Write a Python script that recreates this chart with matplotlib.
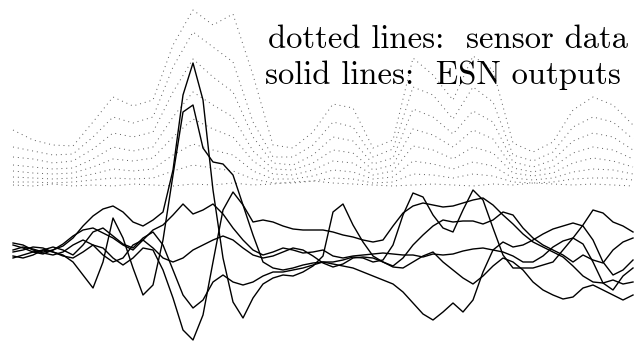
import numpy as np
import matplotlib
matplotlib.use("Agg")
import matplotlib.pyplot as plt

# time steps (samples)
t_esn = np.arange(63)
t_sensor = np.arange(0, 63, 2)

# sensor data (dotted)
sensor_1 = [5.7, 4.7, 4.2, 4.1, 6.5, 9.0, 8.1, 8.7, 14.2, 17.7, 16.2, 17.3, 11.2, 4.2, 3.9, 5.5,
            8.3, 7.9, 3.9, 4.7, 12.9, 11.2, 8.7, 13.1, 11.7, 4.4, 3.5, 4.5, 7.7, 9.0, 8.2, 6.2]
sensor_2 = [4.0, 3.6, 3.2, 3.3, 5.0, 7.0, 6.4, 7.0, 12.0, 15.5, 14.0, 12.5, 6.5, 3.0, 3.0, 4.2,
            6.5, 6.0, 3.0, 3.8, 10.0, 9.2, 6.8, 10.0, 8.5, 3.2, 2.6, 3.5, 6.0, 7.0, 6.5, 4.8]
sensor_3 = [3.0, 2.8, 2.4, 2.6, 3.8, 5.4, 5.0, 5.5, 9.5, 12.8, 11.0, 9.5, 5.0, 2.4, 2.2, 3.2,
            5.0, 4.6, 2.3, 2.9, 7.8, 7.0, 5.3, 7.6, 6.5, 2.5, 2.0, 2.7, 4.6, 5.4, 5.0, 3.7]
sensor_4 = [2.2, 2.0, 1.8, 1.9, 2.8, 4.0, 3.6, 4.0, 7.0, 9.5, 8.2, 7.0, 3.6, 1.8, 1.7, 2.4,
            3.7, 3.4, 1.7, 2.2, 5.8, 5.2, 4.0, 5.7, 4.8, 1.9, 1.5, 2.0, 3.4, 4.0, 3.7, 2.8]
sensor_5 = [1.6, 1.4, 1.3, 1.4, 2.0, 2.8, 2.6, 2.9, 5.0, 6.8, 5.8, 5.0, 2.6, 1.3, 1.2, 1.7,
            2.6, 2.4, 1.2, 1.6, 4.1, 3.7, 2.8, 4.0, 3.4, 1.4, 1.1, 1.4, 2.4, 2.9, 2.6, 2.0]
sensor_6 = [1.0, 0.9, 0.8, 0.9, 1.3, 1.8, 1.6, 1.8, 3.2, 4.3, 3.7, 3.2, 1.6, 0.8, 0.8, 1.1,
            1.7, 1.5, 0.8, 1.0, 2.6, 2.3, 1.8, 2.5, 2.1, 0.9, 0.7, 0.9, 1.5, 1.8, 1.7, 1.3]
sensor_7 = [0.5, 0.5, 0.4, 0.5, 0.7, 0.9, 0.8, 0.9, 1.6, 2.2, 1.9, 1.6, 0.8, 0.4, 0.4, 0.6,
            0.9, 0.8, 0.4, 0.5, 1.3, 1.2, 0.9, 1.3, 1.1, 0.5, 0.4, 0.5, 0.8, 0.9, 0.9, 0.7]
sensor_8 = [0.2, 0.1, 0.3, 0.1, 0.2, 0.1, 0.3, 0.2, 0.1, 0.3, 0.2, 0.4, 0.2, 0.3, 0.5, 0.6,
            0.4, 0.3, 0.2, 0.1, 0.2, 0.3, 0.2, 0.1, 0.3, 0.2, 0.4, 0.3, 0.2, 0.3, 0.2, 0.1]

# ESN outputs (solid)
esn_a = [0.5, 0.8, 0.6, 0.3, 0.5, 0.9, 1.7, 2.9, 3.9, 4.6, 4.9, 4.3, 3.3, 2.9, 3.5, 4.3,
         8.5, 16.0, 19.2, 15.5, 6.5, -0.3, -4.7, -6.3, -4.3, -2.9, -2.3, -2.0, -2.1, -1.7,
         -1.1, -0.1, 4.3, 5.1, 3.0, 1.3, -0.1, -0.7, -1.2, -1.3, -0.7, -0.1, 0.3, -0.7, -1.5,
         -2.3, -2.9, -2.1, -1.1, -0.3, -0.7, -1.5, -2.7, -3.5, -4.0, -4.4, -4.2, -3.3, -3.0,
         -3.5, -4.0, -4.5, -4.0]
esn_b = [-0.3, 0.0, 0.3, 0.5, 0.3, 0.0, -0.7, -2.0, -3.3, -0.7, 3.7, 1.7, -1.3, -4.0, -3.0,
         1.5, 8.0, 14.3, 15.0, 10.7, 9.3, 9.1, 8.0, 5.0, 3.3, 3.5, 3.3, 2.9, 2.6, 2.5, 2.5,
         2.5, 2.3, 2.0, 1.8, 1.5, 1.3, 1.5, 2.9, 4.2, 4.9, 5.2, 5.0, 4.8, 4.9, 5.2, 5.5, 5.7,
         5.0, 4.0, 3.1, 2.1, 1.3, 0.8, 0.3, -0.2, -1.1, -2.1, -2.7, -2.8, -2.5, -2.9, -2.7]
esn_c = [1.0, 0.7, 0.3, 0.1, 0.5, 1.1, 1.9, 2.5, 2.7, 2.2, 1.7, 1.0, 0.5, 1.5, 2.5, 3.0,
         4.0, 5.1, 4.1, 4.5, 5.1, 4.1, 2.7, 1.5, 0.5, 0.0, 0.3, 0.7, 0.5, 0.2, 0.3, 0.5, -0.1,
         -0.3, -0.1, 0.0, 0.1, 0.2, 0.1, 0.0, 0.0, -0.2, 0.1, 0.0, 0.1, 0.4, 0.6, 0.7, 0.5,
         0.3, -0.1, -0.7, -0.7, -0.1, 0.8, 1.4, 1.7, 1.1, -0.7, -2.8, -3.5, -2.1, -1.3]
esn_d = [0.3, 0.5, 0.8, 0.7, 0.3, -0.1, -0.3, 0.3, 1.0, 0.7, -0.3, -1.0, -0.3, 0.7, 0.5,
         -1.5, -4.3, -7.5, -8.5, -6.0, -0.7, 4.5, 6.3, 5.0, 2.0, -0.7, -1.3, -1.5, -1.3, -1.0,
         -0.8, -0.7, -0.9, -1.1, -1.3, -1.7, -2.1, -2.5, -2.9, -3.7, -4.8, -5.9, -6.5, -5.7,
         -4.8, -5.7, -4.5, -1.7, 0.5, 1.3, 0.8, 1.0, 1.5, 2.1, 2.6, 2.9, 3.2, 2.9, 1.5, -0.7,
         -2.0, -1.5, -0.5]
esn_e = [-0.1, -0.3, 0.0, 0.5, 0.8, 0.5, 0.0, 1.0, 2.3, 2.7, 1.9, 1.1, 0.7, 1.7, 2.3, 1.0,
         -1.5, -4.0, -5.3, -4.5, -2.7, -2.0, -2.7, -3.0, -2.7, -2.1, -1.7, -1.7, -1.5, -1.3,
         -1.0, -0.7, -0.7, -0.5, -0.2, -0.3, -0.7, -0.5, 1.0, 4.0, 6.2, 5.8, 4.0, 2.7, 2.3,
         4.5, 6.5, 5.5, 2.7, 0.0, -1.3, -1.3, -1.3, -1.0, -0.7, 0.5, 1.7, 3.0, 4.5, 4.2, 3.3,
         2.9, 2.3]
esn_f = [1.2, 1.0, 0.5, 0.2, 0.0, 0.3, 1.0, 1.5, 1.0, 0.0, -0.7, -0.3, 1.0, 1.5, 0.7, -0.3,
         -0.7, -0.3, 0.5, 1.0, 1.5, 1.9, 1.5, 0.7, 0.0, -0.3, -0.1, 0.3, 0.7, 0.5, -0.1, -0.8,
         -1.2, -0.9, -0.3, -0.2, -0.3, -0.7, -1.1, -0.3, 1.0, 2.0, 2.9, 3.5, 3.3, 3.4, 3.4,
         3.1, 3.5, 4.3, 4.0, 2.7, 1.7, 1.0, 0.5, 0.0, -0.7, 0.0, -0.5, -0.8, 0.5, 1.3, 1.7]

sensors = [sensor_1, sensor_2, sensor_3, sensor_4, sensor_5, sensor_6, sensor_7, sensor_8]
outputs = [esn_a, esn_b, esn_c, esn_d, esn_e, esn_f]

fig = plt.figure(figsize=(6.41, 3.45), dpi=100)

# sensor data on top, ESN outputs below (same time axis)
ax_s = fig.add_axes([0, 0, 1, 1])
ax_e = fig.add_axes([0, 0, 1, 1])
ax_e.patch.set_alpha(0)

for s in sensors:
    ax_s.plot(t_sensor, s, color='0.35', lw=0.7, linestyle=(0, (1, 4)))
for o in outputs:
    ax_e.plot(t_esn, o, color='black', lw=1.0)

for ax in (ax_s, ax_e):
    ax.set_xlim(-1.3, 62.8)
    ax.axis('off')
ax_s.set_ylim(-15.8, 18.7)
ax_e.set_ylim(-9.0, 25.5)

fig.text(268 / 641, 1 - 48 / 345, 'dotted lines:  sensor data', family='cmr10',
         fontsize=23.5, va='baseline', ha='left')
fig.text(265 / 641, 1 - 84 / 345, 'solid lines:  ESN outputs', family='cmr10',
         fontsize=23.5, va='baseline', ha='left')

fig.savefig('out.png', dpi=100)
